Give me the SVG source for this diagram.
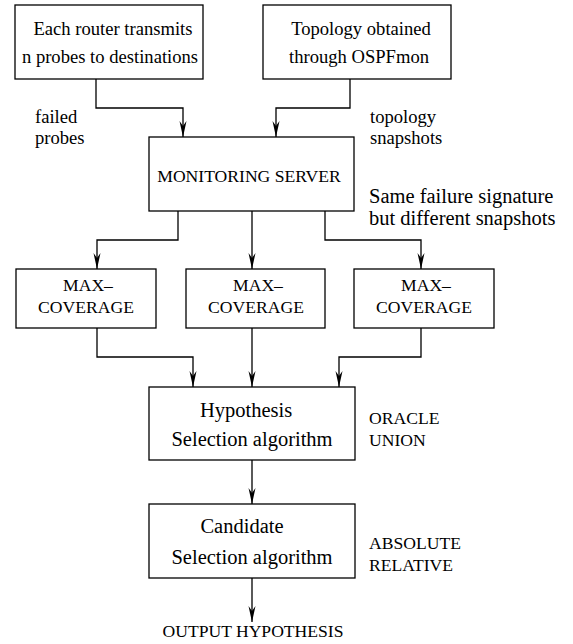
<svg xmlns="http://www.w3.org/2000/svg" width="573" height="644" viewBox="0 0 573 644">
<style>
.box{fill:#fff;stroke:#000;stroke-width:1.3}
.t{font-family:'Liberation Serif','DejaVu Serif',serif;font-size:18.6px;fill:#000}
.b{font-family:'Liberation Serif','DejaVu Serif',serif;font-size:20.5px;fill:#000}
.c{font-family:'Liberation Serif','DejaVu Serif',serif;font-size:17.6px;fill:#000}
.m{text-anchor:middle}
.e{fill:none;stroke:#000;stroke-width:1.3}
</style>
<defs>
<marker id="ah" viewBox="0 0 16 8" refX="16" refY="4" markerWidth="16" markerHeight="8" markerUnits="userSpaceOnUse" orient="auto">
<path d="M0,0.5 L16,4 L0,7.5 L5,4 Z" fill="#000"/>
</marker>
</defs>
<rect width="573" height="644" fill="#fff"/>
<g id="connectors">
<path class="e" d="M96,79 V108 H183 V137" marker-end="url(#ah)"/>
<path class="e" d="M350,79 V108 H276 V137" marker-end="url(#ah)"/>
<path class="e" d="M178,211 V240 H97 V269" marker-end="url(#ah)"/>
<path class="e" d="M252,211 V269" marker-end="url(#ah)"/>
<path class="e" d="M325,211 V240 H421 V269" marker-end="url(#ah)"/>
<path class="e" d="M97,328 V357 H193 V387" marker-end="url(#ah)"/>
<path class="e" d="M252,328 V387" marker-end="url(#ah)"/>
<path class="e" d="M421,328 V357 H339 V387" marker-end="url(#ah)"/>
<path class="e" d="M252,460 V504" marker-end="url(#ah)"/>
<path class="e" d="M252,578 V622" marker-end="url(#ah)"/>
</g>
<g id="probes">
<rect class="box" x="15" y="5" width="188" height="74"/>
<text class="t m" x="113" y="35">Each router transmits</text>
<text class="t m" x="110" y="63">n probes to destinations</text>
</g>
<g id="topology">
<rect class="box" x="263" y="5" width="188" height="74"/>
<text class="t m" x="361" y="35">Topology obtained</text>
<text class="t m" x="359" y="63">through OSPFmon</text>
</g>
<g id="label-failed">
<text class="t" x="35" y="123">failed</text>
<text class="t" x="35" y="144">probes</text>
</g>
<g id="label-topology">
<text class="t" x="370" y="123">topology</text>
<text class="t" x="370" y="144">snapshots</text>
</g>
<g id="server">
<rect class="box" x="149" y="137" width="205" height="74"/>
<text class="c m" x="249" y="182">MONITORING SERVER</text>
</g>
<g id="label-same">
<text class="b" x="369" y="203">Same failure signature</text>
<text class="b" x="369" y="225">but different snapshots</text>
</g>
<g id="mc1">
<rect class="box" x="16" y="269" width="140" height="59"/>
<text class="c m" x="88" y="291">MAX–</text>
<text class="c m" x="86" y="313">COVERAGE</text>
</g>
<g id="mc2">
<rect class="box" x="186" y="269" width="139" height="59"/>
<text class="c m" x="258" y="291">MAX–</text>
<text class="c m" x="256" y="313">COVERAGE</text>
</g>
<g id="mc3">
<rect class="box" x="354" y="269" width="140" height="59"/>
<text class="c m" x="426" y="291">MAX–</text>
<text class="c m" x="424" y="313">COVERAGE</text>
</g>
<g id="hypothesis">
<rect class="box" x="149" y="387" width="206" height="73"/>
<text class="b m" x="246" y="417">Hypothesis</text>
<text class="b m" x="252" y="446">Selection algorithm</text>
</g>
<g id="label-oracle">
<text class="c" x="369" y="424">ORACLE</text>
<text class="c" x="369" y="446">UNION</text>
</g>
<g id="candidate">
<rect class="box" x="149" y="504" width="206" height="74"/>
<text class="b m" x="242" y="533">Candidate</text>
<text class="b m" x="252" y="564">Selection algorithm</text>
</g>
<g id="label-absolute">
<text class="c" x="369" y="549">ABSOLUTE</text>
<text class="c" x="369" y="571">RELATIVE</text>
</g>
<g id="output">
<text class="c m" x="253" y="637">OUTPUT HYPOTHESIS</text>
</g>
</svg>
